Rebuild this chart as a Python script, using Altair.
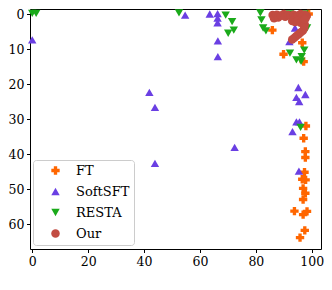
import altair as alt
import pandas as pd

series_names = ["FT", "SoftSFT", "RESTA", "Our"]
series_colors = ["#ff6600", "#6a3fe3", "#1aaa1a", "#c24c42"]
series_shapes = ["cross", "triangle-up", "triangle-down", "circle"]
series_sizes = [70, 72, 72, 81]

ft_x = [98.9, 85.9, 96.6, 89.9, 97.1, 97.9, 97.1, 97.7, 97.7, 97.4, 96.6, 97.8,
        96.9, 97.7, 96.9, 93.8, 96.9, 98.3, 97.5, 95.8]
ft_y = [0.0, 4.6, 8.2, 11.5, 13.6, 32.0, 35.5, 39.3, 41.0, 45.2, 47.2, 47.4,
        49.8, 51.2, 53.0, 56.3, 57.3, 56.4, 61.8, 63.9]

soft_x = [0.0, 41.9, 43.9, 43.9, 72.4, 54.7, 63.5, 66.3, 66.3, 66.3, 66.4, 66.4,
          94.0, 92.0, 95.2, 97.7, 94.5, 95.5, 94.5, 95.6, 93.1, 95.4]
soft_y = [7.4, 22.4, 26.7, 42.7, 38.1, 0.3, 0.0, -0.1, 1.2, 2.5, 7.7, 12.2,
          4.0, 7.9, 21.0, 23.0, 23.8, 25.0, 30.8, 30.8, 33.6, 44.9]

resta_x = [0.0, 1.4, 52.5, 69.2, 71.5, 72.1, 70.1, 81.6, 82.0, 82.6, 83.6, 92.2,
           97.4, 98.3, 92.2, 94.5, 96.4, 97.3, 96.2, 96.0]
resta_y = [-0.2, -0.2, -0.3, 0.3, 2.2, 4.6, 5.5, -0.3, 1.7, 4.0, 4.8, 0.0,
           0.0, 4.0, 11.2, 13.1, 12.2, 10.3, 13.5, 32.4]

our_x = [86.0, 86.5, 87.5, 88.0, 89.0, 90.0, 90.5, 91.5, 92.5, 93.5, 94.0, 95.0,
         96.0, 96.5, 97.5, 98.2, 97.8, 93.0, 94.0, 95.0, 96.0, 97.0, 97.5, 97.5,
         97.3, 96.8, 96.0, 95.3, 94.5, 93.8, 93.0]
our_y = [0.3, 1.2, 0.2, 1.0, 0.4, 0.0, 0.8, 0.3, 0.6, 0.2, 1.0, 0.4,
         0.0, 0.8, 0.2, 0.5, 1.2, 2.0, 2.3, 2.0, 2.5, 2.0, 3.0, 1.5,
         4.0, 4.8, 5.3, 5.8, 6.3, 6.8, 7.3]

x_ticks = [0, 20, 40, 60, 80, 100]
y_ticks = [0, 10, 20, 30, 40, 50, 60]

rows = []
idx = 0
for name, xs, ys in [("FT", ft_x, ft_y), ("SoftSFT", soft_x, soft_y),
                     ("RESTA", resta_x, resta_y), ("Our", our_x, our_y)]:
    for xv, yv in zip(xs, ys):
        rows.append({"x": xv, "y": yv, "series": name, "idx": idx})
        idx += 1
df = pd.DataFrame(rows)

font = "DejaVu Serif"
fs = 12.5

chart = alt.Chart(df).mark_point(filled=True, opacity=1, strokeWidth=0).encode(
    x=alt.X("x:Q",
            scale=alt.Scale(domain=[-0.8, 103.3], nice=False, zero=False),
            axis=alt.Axis(values=x_ticks, title=None, grid=False,
                          domain=False, tickSize=3.5, labelPadding=3,
                          labelFont=font, labelFontSize=fs, labelColor="black",
                          tickColor="black")),
    y=alt.Y("y:Q",
            scale=alt.Scale(domain=[-1.43, 67.14], reverse=True, nice=False, zero=False),
            axis=alt.Axis(values=y_ticks, title=None, grid=False,
                          domain=False, tickSize=3.5, labelPadding=2.5,
                          labelFont=font, labelFontSize=fs, labelColor="black",
                          tickColor="black")),
    color=alt.Color("series:N",
                    scale=alt.Scale(domain=series_names, range=series_colors),
                    legend=alt.Legend(title=None, orient="none", legendX=3, legendY=151,
                                      padding=4, rowPadding=7, symbolOffset=12,
                                      labelOffset=14, labelFont=font, labelFontSize=13,
                                      labelColor="black", symbolSize=70,
                                      strokeColor="#cccccc", fillColor="white",
                                      cornerRadius=3, symbolStrokeWidth=0)),
    shape=alt.Shape("series:N",
                    scale=alt.Scale(domain=series_names, range=series_shapes)),
    size=alt.Size("series:N",
                  scale=alt.Scale(domain=series_names, range=series_sizes),
                  legend=None),
    order=alt.Order("idx:Q"),
).properties(
    width=291, height=240,
    autosize=alt.AutoSizeParams(type="none"),
    padding={"left": 22, "top": 1, "right": 3, "bottom": 22},
).configure_view(stroke="black", strokeWidth=1)

chart.save("out.html", embed_options={"renderer": "svg", "actions": False})
